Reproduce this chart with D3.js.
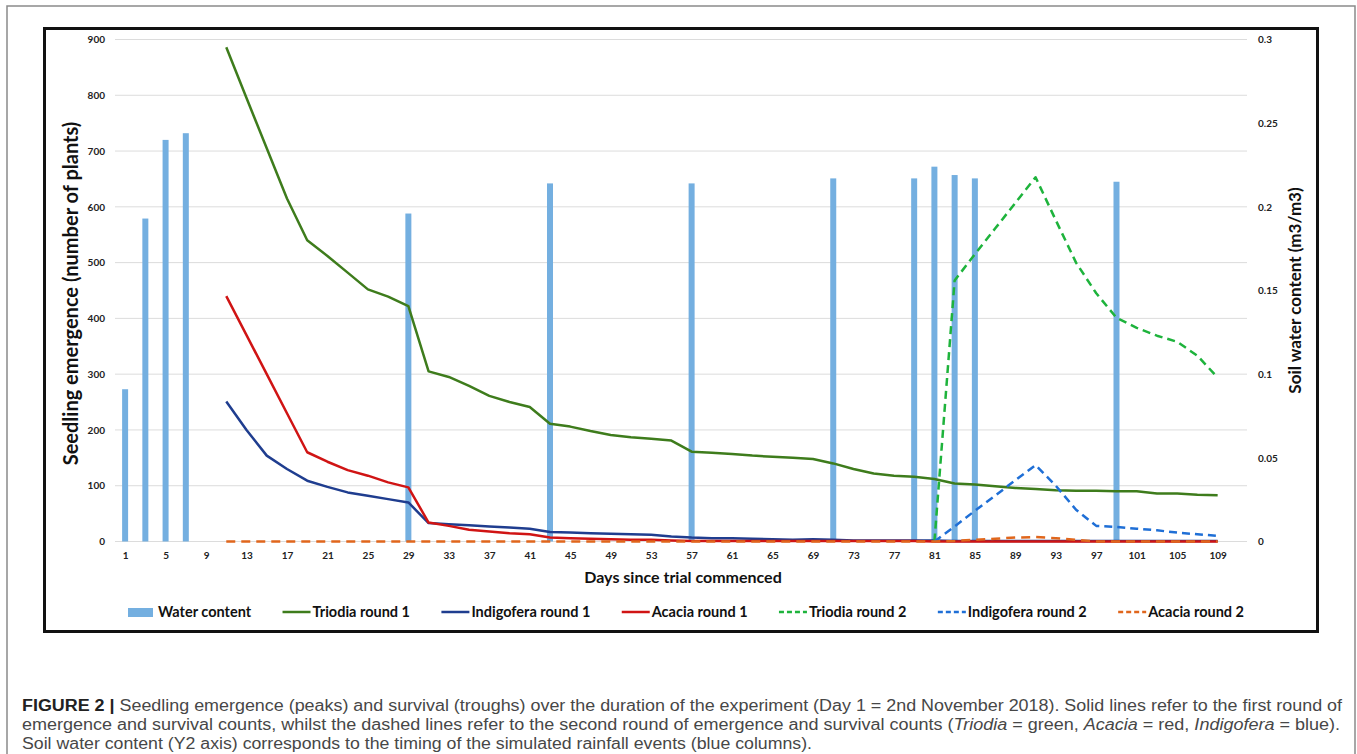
<!DOCTYPE html>
<html>
<head>
<meta charset="utf-8">
<script src="https://cdn.jsdelivr.net/npm/d3@7"></script>
<style>
  body { margin: 0; background: #fff; }
  svg { display: block; }
</style>
</head>
<body>
<svg id="chart" width="1357" height="754"></svg>
<script>
// --- data ---
const rainDays = [1, 3, 5, 7, 29, 43, 57, 71, 79, 81, 83, 85, 99];
const waterContent = [0.091, 0.193, 0.240, 0.244, 0.196, 0.214, 0.214, 0.217, 0.217, 0.224, 0.219, 0.217, 0.215];

const round1Days = [11, 13, 15, 17, 19, 21, 23, 25, 27, 29, 31, 33, 35, 37, 39, 41, 43, 45, 47, 49,
  51, 53, 55, 57, 59, 61, 63, 65, 67, 69, 71, 73, 75, 77, 79, 81, 83, 85, 87, 89,
  91, 93, 95, 97, 99, 101, 103, 105, 107, 109];
const triodia1 = [886, 795, 705, 615, 540, 512, 482, 452, 439, 422, 305, 295, 279, 261, 250, 241, 211, 206, 198, 191,
  187, 184, 181, 161, 159, 157, 154, 152, 150, 148, 140, 130, 122, 118, 116, 112, 104, 102, 99, 96,
  94, 92, 91, 91, 90, 90, 86, 86, 84, 83];
const indigofera1 = [251, 200, 154, 130, 109, 98, 88, 82, 76, 70, 33, 31, 29, 27, 25, 23, 17, 16, 15, 14,
  13, 12, 9, 7, 6, 6, 5, 4, 3, 4, 3, 2, 2, 2, 2, 2, 1, 1, 1, 1,
  1, 1, 1, 1, 1, 1, 1, 1, 1, 1];
const acacia1 = [440, 370, 300, 230, 160, 143, 128, 118, 106, 97, 34, 28, 21, 18, 15, 13, 7, 6, 5, 4,
  3, 3, 2, 1, 1, 1, 1, 1, 1, 1, 1, 1, 1, 1, 1, 0, 0, 0, 0, 0,
  0, 0, 0, 0, 0, 0, 0, 0, 0, 0];

const round2Days = [81, 83, 85, 87, 89, 91, 93, 95, 97, 99, 101, 103, 105, 107, 109];
const triodia2 = [0, 468, 515, 561, 607, 653, 576, 500, 445, 401, 383, 369, 358, 333, 294];
const indigofera2 = [0, 27, 55, 82, 110, 137, 100, 57, 28, 26, 23, 20, 16, 13, 10];
const acacia2Days = [11, 81, 83, 85, 87, 89, 91, 93, 95, 97, 109];
const acacia2 = [0, 0, 1, 3, 5, 7, 8, 6, 3, 0, 0];

const xTicks = [1, 5, 9, 13, 17, 21, 25, 29, 33, 37, 41, 45, 49, 53, 57, 61, 65, 69, 73, 77, 81, 85, 89, 93, 97, 101, 105, 109];
const leftTicks = [0, 100, 200, 300, 400, 500, 600, 700, 800, 900];
const rightTicks = [0, 0.05, 0.1, 0.15, 0.2, 0.25, 0.3];
const seriesNames = ["Water content", "Triodia round 1", "Indigofera round 1", "Acacia round 1",
  "Triodia round 2", "Indigofera round 2", "Acacia round 2"];

// --- layout ---
const plot = { left: 115, right: 1248, gridRight: 1247, top: 39.5, bottom: 541.5 };
const font = "Lato, 'Open Sans', sans-serif";
const svg = d3.select("#chart");

svg.append("rect")
  .attr("x", 7).attr("y", 6).attr("width", 1348).attr("height", 770)
  .attr("fill", "none").attr("stroke", "#8a8a8a").attr("stroke-width", 1.5);
svg.append("rect")
  .attr("x", 44.5).attr("y", 28.5).attr("width", 1273).attr("height", 603)
  .attr("fill", "none").attr("stroke", "#111").attr("stroke-width", 3);

const x = d3.scaleLinear().domain([0, 112]).range([plot.left, plot.right]);
const yLeft = d3.scaleLinear().domain([0, 900]).range([plot.bottom, plot.top]);
const yRight = d3.scaleLinear().domain([0, 0.3]).range([plot.bottom, plot.top]);

// gridlines
svg.append("g")
  .selectAll("line")
  .data(leftTicks)
  .join("line")
  .attr("x1", plot.left).attr("x2", plot.gridRight)
  .attr("y1", d => yLeft(d)).attr("y2", d => yLeft(d))
  .attr("stroke", "#dcdcdc").attr("stroke-width", 1);

// axes (labels only)
const styleAxis = g => {
  g.select(".domain").remove();
  g.selectAll("text").attr("font-family", font).attr("font-size", 10)
    .attr("font-weight", 700).attr("fill", "#222");
};
svg.append("g")
  .attr("transform", `translate(${plot.left},0)`)
  .call(d3.axisLeft(yLeft).tickValues(leftTicks).tickSize(0).tickPadding(10))
  .call(styleAxis);
svg.append("g")
  .attr("transform", `translate(${plot.gridRight},0)`)
  .call(d3.axisRight(yRight).tickValues(rightTicks).tickSize(0).tickPadding(11)
    .tickFormat(d => d === 0 ? "0" : d3.format(".2~f")(d)))
  .call(styleAxis);
svg.append("g")
  .attr("transform", `translate(0,${plot.bottom})`)
  .call(d3.axisBottom(x).tickValues(xTicks).tickSize(0).tickPadding(10))
  .call(styleAxis);

// water content columns
const barW = 6;
svg.append("g")
  .selectAll("rect")
  .data(rainDays.map((d, i) => ({ day: d, v: waterContent[i] })))
  .join("rect")
  .attr("x", d => x(d.day) - barW / 2)
  .attr("width", barW)
  .attr("y", d => yRight(d.v))
  .attr("height", d => plot.bottom - yRight(d.v))
  .attr("fill", "#74afe0");

// lines
const line = d3.line().x(d => x(d.day)).y(d => yLeft(d.v));
const zip = (days, vals) => days.map((d, i) => ({ day: d, v: vals[i] }));
const series = [
  { data: zip(round1Days, triodia1), color: "#3e7c1c", dash: null },
  { data: zip(round1Days, indigofera1), color: "#1f3d8f", dash: null },
  { data: zip(round1Days, acacia1), color: "#d01414", dash: null },
  { data: zip(round2Days, triodia2), color: "#1eb33c", dash: "8,5" },
  { data: zip(round2Days, indigofera2), color: "#1f6fd6", dash: "8,5" },
  { data: zip(acacia2Days, acacia2), color: "#e0661c", dash: "9,6" }
];
series.forEach(s => {
  svg.append("path")
    .datum(s.data)
    .attr("d", line)
    .attr("fill", "none")
    .attr("stroke", s.color)
    .attr("stroke-width", 2.5)
    .attr("stroke-linejoin", "round")
    .attr("stroke-dasharray", s.dash);
});

// axis titles
svg.append("text")
  .attr("transform", `translate(78,${(plot.top + plot.bottom) / 2 + 3}) rotate(-90)`)
  .attr("text-anchor", "middle")
  .attr("font-family", font).attr("font-size", 20).attr("font-weight", 700).attr("fill", "#111")
  .text("Seedling emergence (number of plants)");
svg.append("text")
  .attr("transform", `translate(1301,${(plot.top + plot.bottom) / 2}) rotate(-90)`)
  .attr("text-anchor", "middle")
  .attr("font-family", font).attr("font-size", 17).attr("font-weight", 700).attr("fill", "#111")
  .text("Soil water content (m3/m3)");
svg.append("text")
  .attr("x", 683).attr("y", 583)
  .attr("text-anchor", "middle")
  .attr("font-family", font).attr("font-size", 16).attr("font-weight", 700).attr("fill", "#111")
  .text("Days since trial commenced");

// legend
const legend = svg.append("g");
const legendItems = seriesNames.map((name, i) => ({
  name,
  bar: i === 0,
  color: i === 0 ? "#74afe0" : series[i - 1].color,
  dash: i === 0 ? null : series[i - 1].dash
}));
const swatchW = 28, textGap = 2, legendLeft = 128, legendRight = 1244, legendY = 612;
const labels = legendItems.map(it => legend.append("text")
  .attr("font-family", font).attr("font-size", 14.5).attr("font-weight", 700).attr("fill", "#111")
  .attr("dy", "0.35em").attr("y", legendY)
  .text(it.name));
const widths = labels.map(l => l.node().getComputedTextLength());
const used = d3.sum(widths) + legendItems.length * (swatchW + textGap);
const itemGap = (legendRight - legendLeft - used) / (legendItems.length - 1);
let cx = legendLeft;
legendItems.forEach((it, i) => {
  if (it.bar) {
    legend.append("rect").attr("x", cx).attr("y", legendY - 4).attr("width", swatchW - 3).attr("height", 9)
      .attr("fill", it.color);
  } else {
    legend.append("line").attr("x1", cx).attr("x2", cx + swatchW).attr("y1", legendY).attr("y2", legendY)
      .attr("stroke", it.color).attr("stroke-width", 2.5).attr("stroke-dasharray", it.dash ? "5,3" : null);
  }
  labels[i].attr("x", cx + swatchW + textGap);
  cx += swatchW + textGap + widths[i] + itemGap;
});

// caption
const capFont = "'Liberation Sans', Arial, sans-serif";
const cap = svg.append("g").attr("font-family", capFont).attr("font-size", 16).attr("fill", "#474747");
const l1 = cap.append("text").attr("x", 22).attr("y", 711).attr("textLength", 1320).attr("lengthAdjust", "spacingAndGlyphs");
l1.append("tspan").attr("font-weight", 700).attr("fill", "#222").text("FIGURE 2 | ");
l1.append("tspan").text("Seedling emergence (peaks) and survival (troughs) over the duration of the experiment (Day 1 = 2nd November 2018). Solid lines refer to the first round of");
const l2 = cap.append("text").attr("x", 22).attr("y", 730).attr("textLength", 1318).attr("lengthAdjust", "spacingAndGlyphs");
l2.append("tspan").text("emergence and survival counts, whilst the dashed lines refer to the second round of emergence and survival counts (");
l2.append("tspan").attr("font-style", "italic").text("Triodia");
l2.append("tspan").text(" = green, ");
l2.append("tspan").attr("font-style", "italic").text("Acacia");
l2.append("tspan").text(" = red, ");
l2.append("tspan").attr("font-style", "italic").text("Indigofera");
l2.append("tspan").text(" = blue).");
cap.append("text").attr("x", 22).attr("y", 749).attr("textLength", 790).attr("lengthAdjust", "spacingAndGlyphs")
  .text("Soil water content (Y2 axis) corresponds to the timing of the simulated rainfall events (blue columns).");
</script>
</body>
</html>
